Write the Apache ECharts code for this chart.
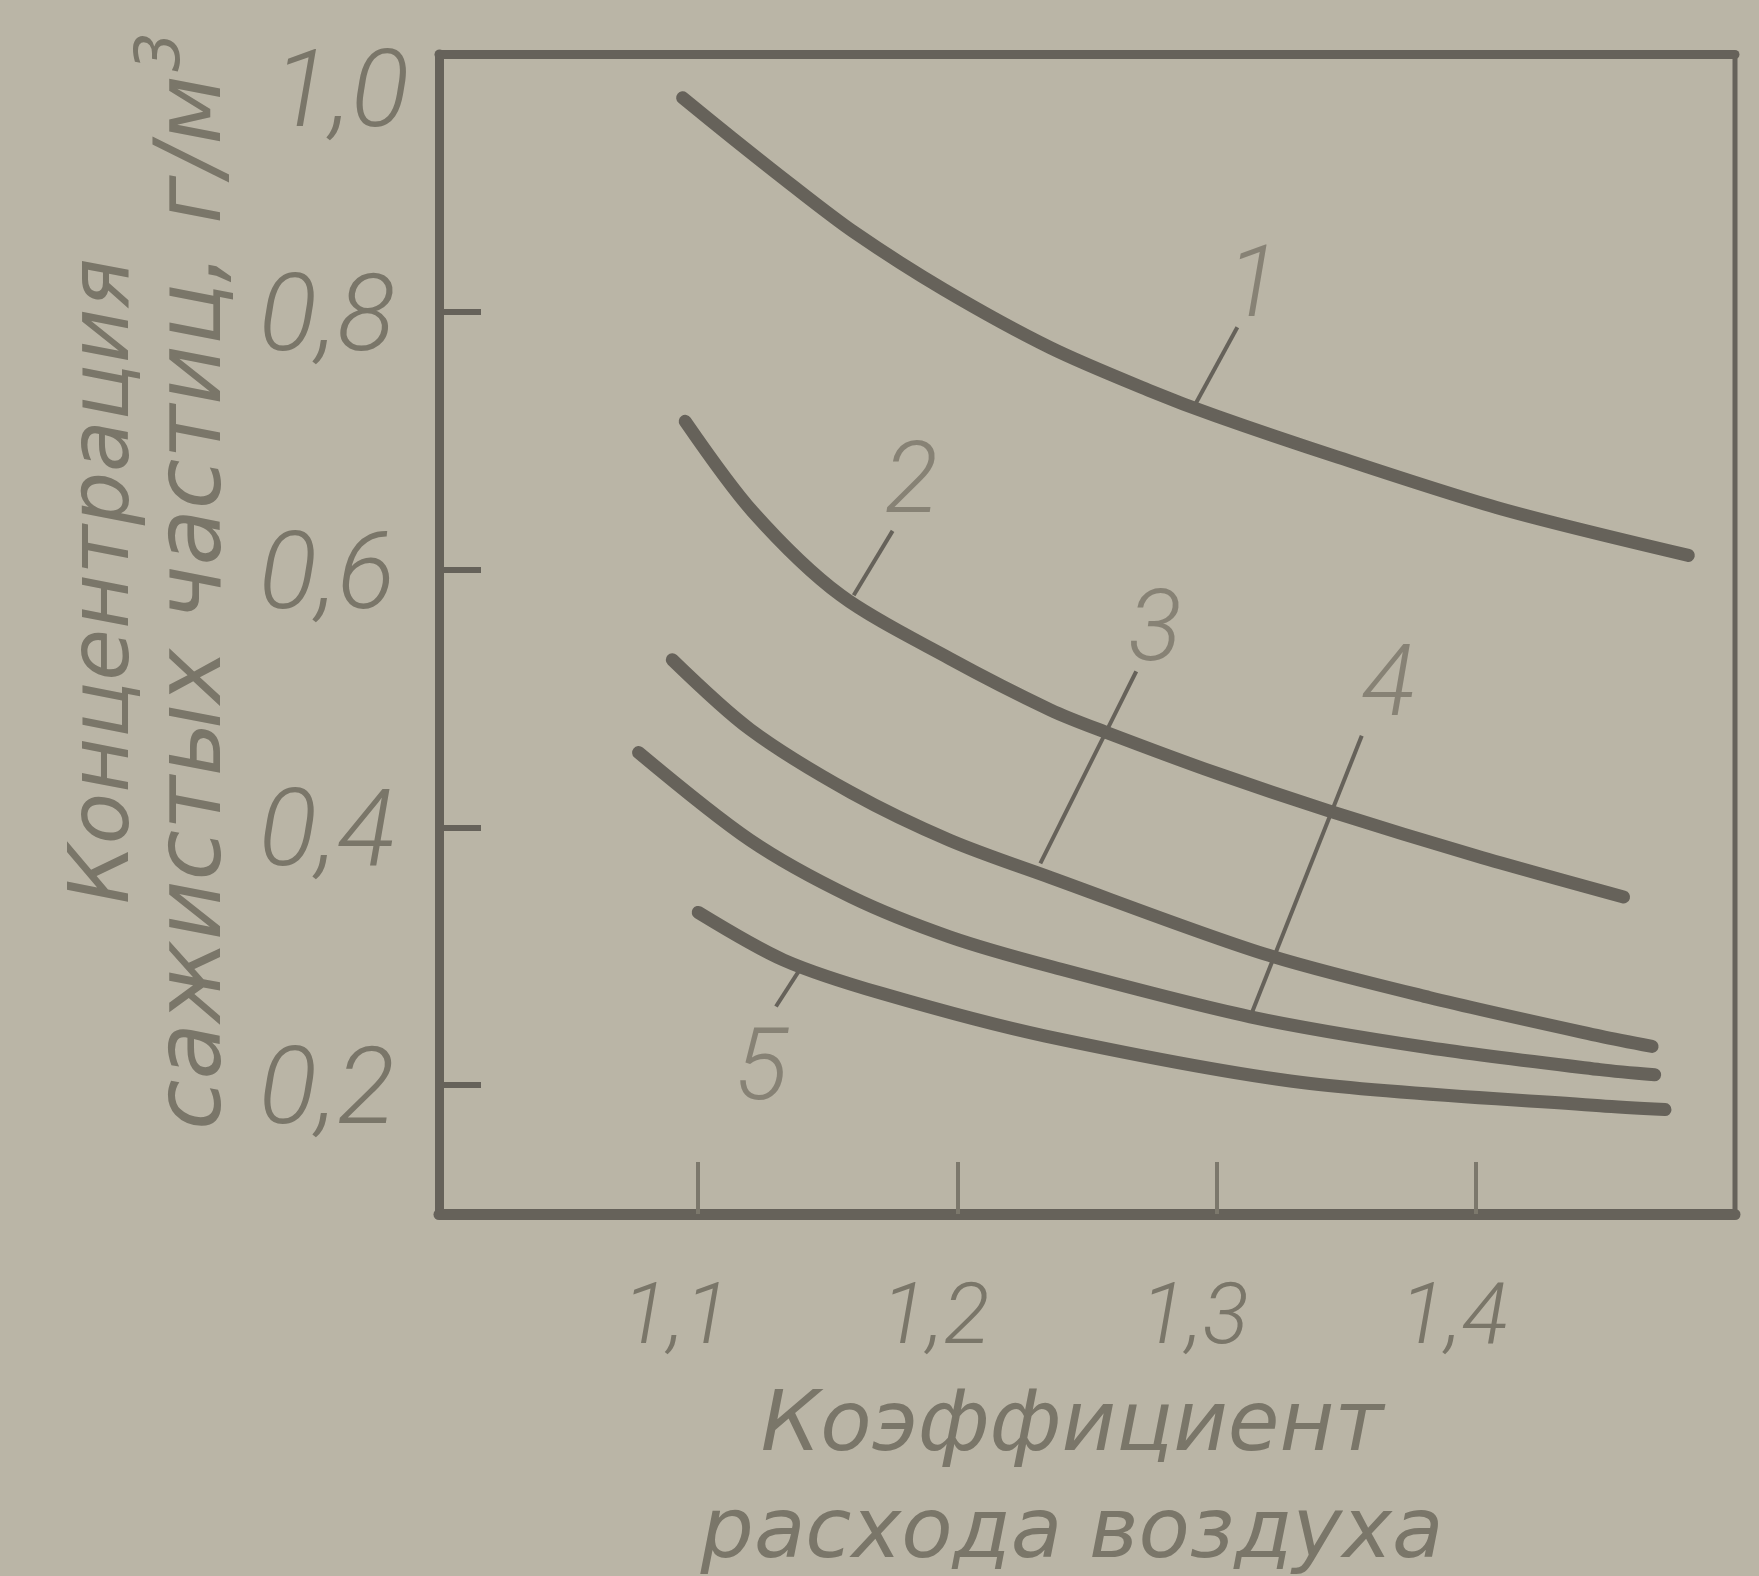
<!DOCTYPE html>
<html>
<head>
<meta charset="utf-8" />
<title>Концентрация сажистых частиц</title>
<script src="https://cdn.jsdelivr.net/npm/echarts@6.0.0/dist/echarts.min.js"></script>
<style>
html, body { margin: 0; padding: 0; background: #bab5a6; }
#chart { width: 1759px; height: 1576px; }
</style>
</head>
<body>
<div id="chart"></div>
<script type="text/javascript">
// кривые 1-5: коэффициент расхода воздуха -> концентрация, г/м3
var alpha1 = [1.094, 1.113, 1.135, 1.160, 1.195, 1.236, 1.274, 1.300, 1.347, 1.410, 1.482];
var conc1  = [0.966, 0.935, 0.900, 0.862, 0.817, 0.772, 0.739, 0.719, 0.687, 0.647, 0.611];
var alpha2 = [1.095, 1.121, 1.155, 1.197, 1.236, 1.257, 1.300, 1.343, 1.400, 1.457];
var conc2  = [0.715, 0.645, 0.580, 0.531, 0.491, 0.474, 0.442, 0.413, 0.378, 0.346];
var alpha3 = [1.090, 1.120, 1.159, 1.197, 1.236, 1.318, 1.382, 1.448, 1.468];
var conc3  = [0.530, 0.476, 0.427, 0.390, 0.361, 0.302, 0.268, 0.238, 0.230];
var alpha4 = [1.077, 1.120, 1.159, 1.197, 1.236, 1.313, 1.382, 1.448, 1.469];
var conc4  = [0.458, 0.390, 0.346, 0.315, 0.292, 0.253, 0.229, 0.212, 0.208];
var alpha5 = [1.100, 1.133, 1.171, 1.234, 1.333, 1.448, 1.473];
var conc5  = [0.334, 0.297, 0.271, 0.238, 0.202, 0.184, 0.181];

var xTicks = [1.1, 1.2, 1.3, 1.4];
var yTicks = [0.2, 0.4, 0.6, 0.8];
var yLabels = [0.2, 0.4, 0.6, 0.8, 1.0];

// выноски: точка на кривой, конец выноски, место номера
var curveNames = ['1', '2', '3', '4', '5'];
var leadX1 = [1.292, 1.160, 1.232, 1.313, 1.139];
var leadY1 = [0.729, 0.580, 0.372, 0.253, 0.289];
var leadX2 = [1.308, 1.175, 1.269, 1.356, 1.130];
var leadY2 = [0.788, 0.630, 0.521, 0.471, 0.261];
var numX = [1.315, 1.183, 1.277, 1.367, 1.125];
var numY = [0.826, 0.674, 0.559, 0.517, 0.219];

var ink = '#66625a';
var textInk = '#7a7669';
var tickFont = "Roboto, 'DejaVu Sans', sans-serif";
var nameFont = "'DejaVu Sans', sans-serif";

function fmt(v) {
    return Number(v).toFixed(1).replace('.', ',');
}
function pairs(xs, ys) {
    var out = [];
    xs.forEach(function (x, i) { out.push([x, ys[i]]); });
    return out;
}

var tickText = { fontFamily: tickFont, fontStyle: 'italic', fontWeight: 300, color: textInk };
var nameText = { fontFamily: nameFont, fontStyle: 'italic', color: textInk };

var curves = [[alpha1, conc1], [alpha2, conc2], [alpha3, conc3], [alpha4, conc4], [alpha5, conc5]];
var series = [];

curves.forEach(function (c, i) {
    series.push({
        name: curveNames[i],
        type: 'line',
        data: pairs(c[0], c[1]),
        smooth: 0.3,
        showSymbol: false,
        silent: true,
        lineStyle: { color: ink, width: 13, cap: 'round', join: 'round' },
        z: 3
    });
});

curveNames.forEach(function (n, i) {
    series.push({
        type: 'line',
        data: [[leadX1[i], leadY1[i]], [leadX2[i], leadY2[i]]],
        showSymbol: false,
        silent: true,
        lineStyle: { color: ink, width: 4 },
        z: 2
    });
});

series.push({
    type: 'scatter',
    symbolSize: 0,
    silent: true,
    data: curveNames.map(function (n, i) { return { name: n, value: [numX[i], numY[i]] }; }),
    label: Object.assign({
        show: true,
        position: 'inside',
        offset: [-2, 13],
        formatter: function (p) { return p.name; },
        fontSize: 100
    }, tickText)
});

var myChart = echarts.init(document.getElementById('chart'));
myChart.setOption({
    backgroundColor: '#bab5a6',
    animation: false,
    grid: {
        left: 439, top: 54, right: 24, bottom: 362,
        outerBoundsMode: 'none',
        containLabel: false,
        show: true,
        backgroundColor: 'transparent',
        borderColor: ink,
        borderWidth: 5
    },
    xAxis: [{
        type: 'value',
        min: 1.0, max: 1.5,
        axisLine: { onZero: false, lineStyle: { color: ink, width: 11 } },
        axisTick: { inside: true, length: 52, customValues: xTicks, lineStyle: { color: '#7c786c', width: 4 } },
        axisLabel: Object.assign({
            customValues: xTicks, formatter: fmt, margin: 64,
            fontSize: 86, padding: [0, 44, 0, 0]
        }, tickText),
        splitLine: { show: false },
        name: 'Коэффициент\nрасхода воздуха',
        nameLocation: 'middle',
        nameGap: 161,
        nameMoveOverlap: false,
        nameTextStyle: Object.assign({
            fontSize: 84, lineHeight: 107, padding: [0, 30, 0, 0]
        }, nameText)
    }, {
        // верхняя сторона рамки
        type: 'value',
        position: 'top',
        min: 1.0, max: 1.5,
        axisLine: { onZero: false, lineStyle: { color: ink, width: 9 } },
        axisTick: { show: false },
        axisLabel: { show: false },
        splitLine: { show: false }
    }],
    yAxis: {
        type: 'value',
        min: 0.1, max: 1.0,
        axisLine: { onZero: false, lineStyle: { color: ink, width: 9 } },
        axisTick: { inside: true, length: 42, customValues: yTicks, lineStyle: { color: ink, width: 6 } },
        axisLabel: Object.assign({
            customValues: yLabels, margin: 30,
            fontSize: 108,
            formatter: function (v) {
                return v >= 1 ? '{top|' + fmt(v) + '}' : '{n|' + fmt(v) + '}';
            },
            rich: {
                top: Object.assign({ fontSize: 108, padding: [90, 0, 0, 0] }, tickText),
                n: Object.assign({ fontSize: 108, padding: [22, 14, 0, 0] }, tickText)
            }
        }, tickText),
        splitLine: { show: false },
        name: '{a|Концентрация}\n{b|сажистых частиц, г/м}{s|3}',
        nameLocation: 'middle',
        nameGap: 198,
        nameMoveOverlap: false,
        nameTextStyle: Object.assign({
            fontSize: 84, lineHeight: 90, padding: [0, 0, 0, 106],
            rich: {
                a: Object.assign({ fontSize: 84, lineHeight: 90 }, nameText),
                b: Object.assign({ fontSize: 92, lineHeight: 90 }, nameText),
                s: Object.assign({ fontSize: 62, lineHeight: 20, padding: [0, 0, 66, 4] }, nameText)
            }
        }, nameText)
    },
    series: series
});
</script>
</body>
</html>
